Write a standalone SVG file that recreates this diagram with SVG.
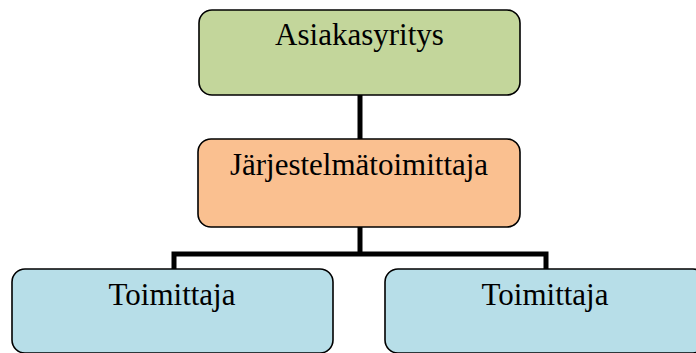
<svg xmlns="http://www.w3.org/2000/svg" width="696" height="353" viewBox="0 0 696 353">
  <style>
    .box { stroke: #000; stroke-width: 1.6; }
    .lbl { font-family: "Liberation Serif", "Times New Roman", serif; font-size: 31px; fill: #000; text-anchor: middle; }
    .link { fill: none; stroke: #000; stroke-width: 5; }
  </style>
  <rect width="696" height="353" fill="#fff"/>
  <g id="connectors">
    <line class="link" x1="360" y1="95" x2="360" y2="140"/>
    <polyline class="link" points="360,227 360,254"/>
    <polyline class="link" points="174,270 174,254 546,254 546,270"/>
  </g>
  <g id="asiakasyritys">
    <rect class="box" x="199" y="10" width="321" height="85" rx="13" fill="#C3D69B"/>
    <text class="lbl" x="359.5" y="45">Asiakasyritys</text>
  </g>
  <g id="jarjestelmatoimittaja">
    <rect class="box" x="198" y="139" width="322" height="88" rx="13" fill="#FAC090"/>
    <text class="lbl" x="359" y="175">Järjestelmätoimittaja</text>
  </g>
  <g id="toimittaja-1">
    <rect class="box" x="12" y="269" width="321" height="84" rx="13" fill="#B7DEE8"/>
    <text class="lbl" x="172" y="305">Toimittaja</text>
  </g>
  <g id="toimittaja-2">
    <rect class="box" x="385" y="269" width="321" height="84" rx="13" fill="#B7DEE8"/>
    <text class="lbl" x="545" y="305">Toimittaja</text>
  </g>
</svg>
